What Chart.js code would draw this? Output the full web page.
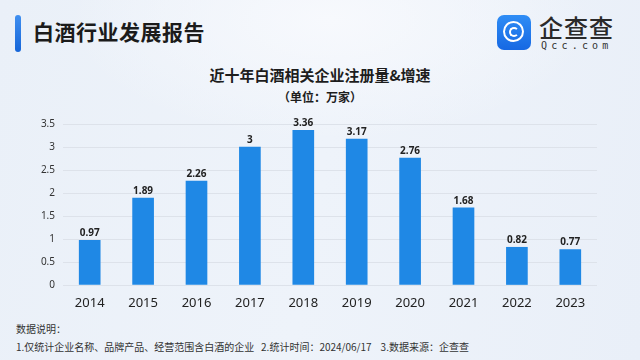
<!DOCTYPE html>
<html>
<head>
<meta charset="utf-8">
<script src="https://cdn.jsdelivr.net/npm/chart.js@4.4.0/dist/chart.umd.min.js"></script>
<style>
  html, body { margin: 0; padding: 0; }
  body {
    width: 640px; height: 360px; overflow: hidden; position: relative;
    font-family: "Noto Sans CJK SC", "Noto Sans", sans-serif;
    background: radial-gradient(ellipse 260px 120px at 330px 20px, #f7f9fd 0%, rgba(247,249,253,0) 100%),
                linear-gradient(100deg, #eaf0f8 0%, #eef3fa 50%, #e9eff8 100%);
  }
  .bar { position: absolute; left: 15px; top: 15px; width: 6px; height: 37px; border-radius: 3px;
         background: linear-gradient(#3f8ff0, #1565d8); }
  .head { position: absolute; left: 33px; top: 16px; font-size: 21px; font-weight: bold; color: #1b1b1b; letter-spacing: 0.5px; }
  .logo { position: absolute; left: 497px; top: 15px; width: 34px; height: 35px; border-radius: 7px;
          background: linear-gradient(#2f8df5, #1668e3); }
  .logo .ring { position: absolute; left: 6px; top: 6px; width: 17px; height: 17px; border: 2.5px solid #fff; border-radius: 50%; }
  .logo .ring2 { position: absolute; left: 12px; top: 12px; width: 6px; height: 6px; border: 2px solid #fff; border-radius: 50%; border-right-color: transparent; }
  .brand { position: absolute; left: 539px; top: 9px; font-size: 24px; font-weight: 500; color: #2a2a2a; letter-spacing: 1px; }
  .brand2 { position: absolute; left: 541px; top: 40px; font-size: 10px; color: #333; letter-spacing: 4.2px; font-family: "DejaVu Sans Mono", monospace; }
  .title { position: absolute; left: 0; width: 640px; top: 64px; text-align: center; font-size: 15px; font-weight: bold; color: #1d1d1d; }
  .sub { position: absolute; left: 0; width: 640px; top: 88px; text-align: center; font-size: 12px; font-weight: bold; color: #1d1d1d; }
  .note { position: absolute; left: 16px; font-size: 10px; color: #333; }
  #wrap { position: absolute; left: 0; top: 110px; width: 640px; height: 200px; }
</style>
</head>
<body>
<div class="bar"></div>
<div class="head">白酒行业发展报告</div>
<div class="logo"><div class="ring"></div><div class="ring2"></div></div>
<div class="brand">企查查</div>
<div class="brand2">Qcc.com</div>
<div class="title">近十年白酒相关企业注册量&amp;增速</div>
<div class="sub">（单位：万家）</div>
<div id="wrap"><canvas id="chart"></canvas></div>
<div class="note" style="top:321px">数据说明：</div>
<div class="note" style="top:339px">1.仅统计企业名称、品牌产品、经营范围含白酒的企业&nbsp;&nbsp;&nbsp;2.统计时间：2024/06/17&nbsp;&nbsp;&nbsp;&nbsp;3.数据来源：企查查</div>
<script>
const years = ['2014', '2015', '2016', '2017', '2018', '2019', '2020', '2021', '2022', '2023'];
const registrations = [0.97, 1.89, 2.26, 3, 3.36, 3.17, 2.76, 1.68, 0.82, 0.77];
const yTicks = [0, 0.5, 1, 1.5, 2, 2.5, 3, 3.5];

const valueLabels = {
  id: 'valueLabels',
  afterDatasetsDraw(chart) {
    const ctx = chart.ctx;
    const meta = chart.getDatasetMeta(0);
    ctx.save();
    ctx.font = 'bold 10px "Noto Sans", sans-serif';
    ctx.fillStyle = '#222';
    ctx.textAlign = 'center';
    ctx.textBaseline = 'bottom';
    meta.data.forEach((bar, i) => {
      ctx.fillText(String(registrations[i]), bar.x, bar.y - 2);
    });
    ctx.restore();
  }
};

new Chart(document.getElementById('chart'), {
  type: 'bar',
  data: {
    labels: years,
    datasets: [{
      data: registrations,
      backgroundColor: '#1f88e5',
      barThickness: 21
    }]
  },
  options: {
    responsive: true,
    maintainAspectRatio: false,
    animation: false,
    layout: { padding: { top: 12, right: 43, left: 0, bottom: 0 } },
    plugins: { legend: { display: false }, tooltip: { enabled: false } },
    scales: {
      x: {
        grid: { display: false },
        border: { display: false },
        ticks: { color: '#222', font: { size: 13, family: '"Noto Sans", sans-serif' }, padding: 2 },
        afterFit: s => { s.height = 25; }
      },
      y: {
        min: 0,
        max: 3.5,
        afterBuildTicks: s => { s.ticks = yTicks.map(v => ({ value: v })); },
        grid: { color: '#dde2ea', drawTicks: false },
        border: { display: false },
        ticks: {
          color: '#333',
          font: { size: 10, family: '"Noto Sans", sans-serif' },
          padding: 8,
          callback: v => String(v)
        },
        afterFit: s => { s.width = 63; }
      }
    }
  },
  plugins: [valueLabels]
});
</script>
</body>
</html>
